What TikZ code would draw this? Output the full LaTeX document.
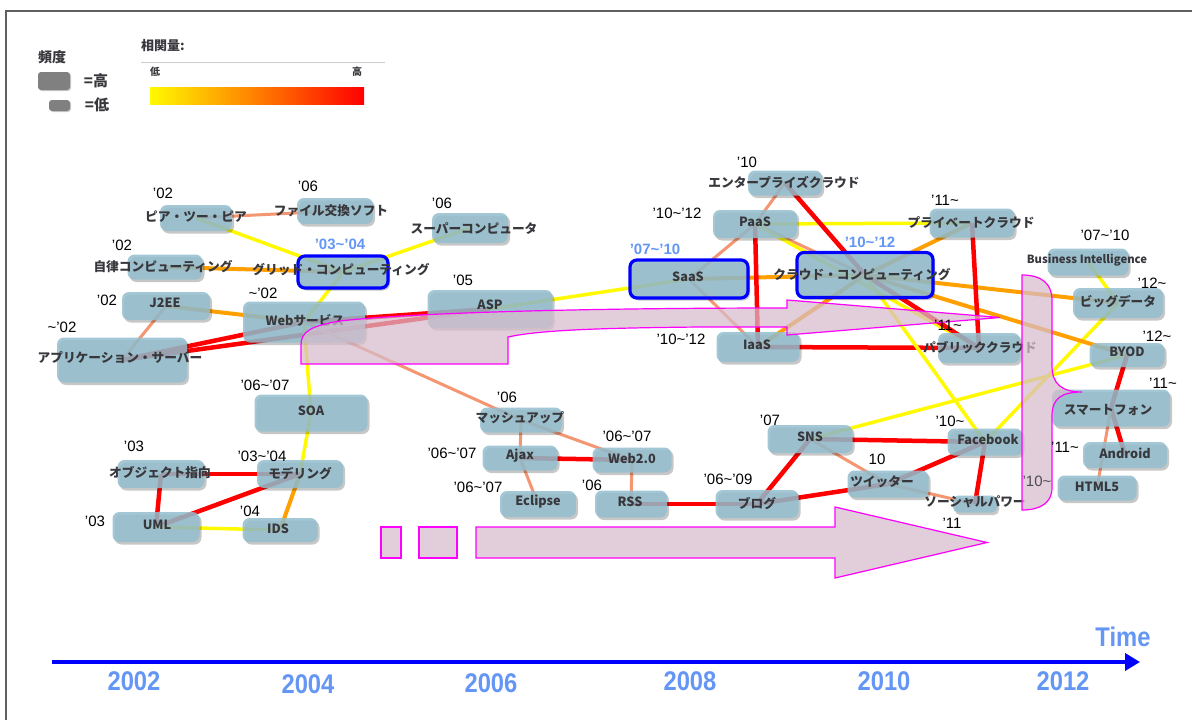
\documentclass[tikz,border=0pt]{standalone}
\usepackage{fontspec}
\usetikzlibrary{shadows,arrows.meta}
\newfontfamily\jfont{Noto Sans CJK JP}
\newfontfamily\lfont{Liberation Sans}
\newfontfamily\yfont{Liberation Sans}[FakeStretch=0.88]
\definecolor{nodeblue}{RGB}{148,190,206}
\definecolor{jtext}{RGB}{55,55,60}
\definecolor{hiblue}{RGB}{100,150,245}
\definecolor{arrowfill}{RGB}{214,188,204}
\definecolor{arrowline}{RGB}{255,0,255}
\definecolor{ye}{RGB}{255,250,0}
\definecolor{org}{RGB}{255,160,0}
\definecolor{sal}{RGB}{245,150,115}
\definecolor{rd}{RGB}{255,0,0}
\definecolor{legendgray}{RGB}{128,128,128}
\pgfdeclarelayer{bg}
\pgfdeclarelayer{edges}
\pgfsetlayers{bg,edges,main}
\newcommand\wv{\textasciitilde}

\tikzset{
  box/.style={rectangle, rounded corners=7pt, inner sep=0pt, fill=nodeblue,
    fill opacity=0.85,
    drop shadow={shadow xshift=2pt, shadow yshift=-2.5pt, opacity=0.22, fill=black}},
  hibox/.style={box, draw=blue, line width=3.2pt},
  jt/.style={font=\jfont\bfseries\fontsize{12.7}{14}\selectfont, text=jtext, inner sep=0pt},
  yr/.style={font=\lfont\fontsize{15}{16}\selectfont, inner sep=0pt},
  hyr/.style={font=\lfont\bfseries\fontsize{15}{16}\selectfont, text=hiblue, inner sep=0pt},
  yel/.style={draw=ye, line width=3.5pt},
  ora/.style={draw=org, line width=4pt},
  slm/.style={draw=sal, line width=3pt},
  red/.style={draw=rd, line width=4.5pt},
  band/.style={fill=arrowfill, fill opacity=0.72, draw=arrowline, line width=1.2pt},
  year/.style={font=\yfont\bfseries\fontsize{27}{30}\selectfont, text=hiblue, inner sep=0pt},
  legtext/.style={font=\jfont\bfseries\fontsize{14}{16}\selectfont, text=jtext, inner sep=0pt},
  legbox/.style={rectangle, rounded corners=3pt, fill=legendgray, inner sep=0pt,
    drop shadow={shadow xshift=1pt, shadow yshift=-1pt, opacity=0.2, fill=black}},
}

\begin{document}
\begin{tikzpicture}[x=1pt, y=-1pt]
\useasboundingbox (0,0) rectangle (1192,720);
\begin{pgfonlayer}{bg}
\fill[white] (0,0) rectangle (1192,720);
\end{pgfonlayer}

% frame
\draw[gray!75!black, line width=1.3pt] (6,720) -- (6,11) -- (1192,11);

% legend: frequency
\node[legtext] (lg-freq) at (52,57) {頻度};
\node[legbox, minimum width=32pt, minimum height=18pt] (lg-hi) at (54,81) {};
\node[legtext, font=\jfont\bfseries\fontsize{15}{17}\selectfont] (lg-hi-t) at (96,81) {=高};
\node[legbox, minimum width=21pt, minimum height=11pt] (lg-lo) at (59.5,105.5) {};
\node[legtext, font=\jfont\bfseries\fontsize{15}{17}\selectfont] (lg-lo-t) at (97,105) {=低};

% legend: correlation
\node[legtext, font=\jfont\bfseries\fontsize{13}{15}\selectfont] (lg-corr) at (163,46) {相関量:};
\draw[gray!40, line width=1pt] (141,62) -- (385,62);
\node[font=\jfont\bfseries\fontsize{10}{12}\selectfont, text=jtext, inner sep=0pt] (lg-low) at (155,72) {低};
\node[font=\jfont\bfseries\fontsize{10}{12}\selectfont, text=jtext, inner sep=0pt] (lg-high) at (357,72) {高};
\shade[left color=ye, right color=rd] (150,87) rectangle (364,104);

% ---------- boxes ----------
\node[box, minimum width=72pt, minimum height=26pt] (p2p) at (196,218) {};
\node[box, minimum width=76pt, minimum height=26pt] (file) at (335,211) {};
\node[box, minimum width=75pt, minimum height=25pt] (auto) at (165,267) {};
\node[hibox, minimum width=90pt, minimum height=32pt] (grid) at (343,272) {};
\node[box, minimum width=88pt, minimum height=28pt] (j2ee) at (166,306) {};
\node[box, minimum width=122pt, minimum height=41pt] (web) at (304,322) {};
\node[box, minimum width=130pt, minimum height=45pt] (app) at (122,360) {};
\node[box, minimum width=76pt, minimum height=30pt] (super) at (470,228) {};
\node[box, minimum width=125pt, minimum height=38pt] (asp) at (490,309) {};
\node[box, minimum width=113pt, minimum height=37pt] (soa) at (311,413) {};
\node[box, minimum width=87pt, minimum height=28pt] (obj) at (161,474) {};
\node[box, minimum width=86pt, minimum height=28pt] (model) at (300,474) {};
\node[box, minimum width=87pt, minimum height=30pt] (uml) at (156,527) {};
\node[box, minimum width=75pt, minimum height=24pt] (ids) at (280,530) {};
\node[box, minimum width=82pt, minimum height=25pt] (mash) at (521,420) {};
\node[box, minimum width=75pt, minimum height=25pt] (ajax) at (520,458) {};
\node[box, minimum width=79pt, minimum height=25pt] (web2) at (632,460) {};
\node[box, minimum width=76pt, minimum height=26pt] (eclipse) at (538,504) {};
\node[box, minimum width=72pt, minimum height=27pt] (rss) at (631,504) {};
\node[box, minimum width=83pt, minimum height=28pt] (blog) at (757,504) {};
\node[box, minimum width=85pt, minimum height=28pt] (sns) at (810,439) {};
\node[box, minimum width=75pt, minimum height=27pt] (fb) at (985,442) {};
\node[box, minimum width=81pt, minimum height=27pt] (twit) at (888,484) {};
\node[box, rounded corners=5pt, minimum width=44pt, minimum height=17pt] (social) at (975,504) {};
\node[hibox, minimum width=118pt, minimum height=38pt] (saas) at (689,279) {};
\node[box, minimum width=84pt, minimum height=28pt] (paas) at (755,224) {};
\node[box, minimum width=74pt, minimum height=25pt] (ent) at (785,183) {};
\node[hibox, minimum width=136pt, minimum height=45pt] (cloud) at (865,275) {};
\node[box, minimum width=83pt, minimum height=30pt] (iaas) at (758,347) {};
\node[box, minimum width=85pt, minimum height=29pt] (priv) at (972,223) {};
\node[box, minimum width=82pt, minimum height=30pt] (pub) at (979,348) {};
\node[box, minimum width=81pt, minimum height=27pt] (bi) at (1088,262) {};
\node[box, minimum width=90pt, minimum height=30pt] (big) at (1118,303) {};
\node[box, minimum width=75pt, minimum height=24pt] (byod) at (1127,355) {};
\node[box, minimum width=118pt, minimum height=37pt] (smart) at (1111,408) {};
\node[box, minimum width=84pt, minimum height=26pt] (android) at (1125,455) {};
\node[box, minimum width=79pt, minimum height=25pt] (html5) at (1097,488) {};

% ---------- connectors ----------
\begin{pgfonlayer}{edges}
\draw[slm] (p2p.center) -- (file.center);
\draw[yel] (p2p.center) -- (grid.center);
\draw[ora] (auto.center) -- (grid.center);
\draw[yel] (grid.center) -- (super.center);
\draw[yel] (grid.center) -- (web.center);
\draw[ora] (j2ee.center) -- (web.center);
\draw[slm] (j2ee.center) -- (app.center);
\draw[red] (app.center) -- (web.center);
\draw[red] (app.center) -- (asp.center);
\draw[red] (web.center) -- (asp.center);
\draw[yel] (web.center) -- (soa.center);
\draw[yel] (soa.center) -- (model.center);
\draw[ora] (model.center) -- (ids.center);
\draw[red] (obj.center) -- (model.center);
\draw[red] (obj.center) -- (uml.center);
\draw[red] (uml.center) -- (model.center);
\draw[yel] (uml.center) -- (ids.center);
\draw[slm] (web.center) -- (mash.center);
\draw[slm] (mash.center) -- (web2.center);
\draw[slm] (mash.center) -- (ajax.center);
\draw[red] (ajax.center) -- (web2.center);
\draw[slm] (ajax.center) -- (eclipse.center);
\draw[slm] (web2.center) -- (rss.center);
\draw[red] (rss.center) -- (blog.center);
\draw[red] (blog.center) -- (sns.center);
\draw[red] (blog.center) -- (twit.center);
\draw[red] (sns.center) -- (fb.center);
\draw[slm] (sns.center) -- (twit.center);
\draw[slm] (twit.center) -- (social.center);
\draw[red] (twit.center) -- (fb.center);
\draw[red] (fb.center) -- (social.center);
\draw[yel] (sns.center) -- (byod.center);
\draw[yel] (fb.center) -- (big.center);
\draw[yel] (bi.center) -- (big.center);
\draw[ora] (cloud.center) -- (big.center);
\draw[ora] (cloud.center) -- (byod.center);
\draw[red] (byod.center) -- (smart.center);
\draw[red] (smart.center) -- (android.center);
\draw[slm] (smart.center) -- (html5.center);
\draw[yel] (asp.center) -- (saas.center);
\draw[ora] (saas.center) -- (cloud.center);
\draw[slm] (saas.center) -- (paas.center);
\draw[slm] (saas.center) -- (iaas.center);
\draw[slm] (paas.center) -- (ent.center);
\draw[red] (paas.center) -- (iaas.center);
\draw[yel] (paas.center) -- (priv.center);
\draw[slm] (paas.center) -- (cloud.center);
\draw[yel] (paas.center) -- (pub.center);
\draw[red] (ent.center) -- (cloud.center);
\draw[red] (cloud.center) -- (pub.center);
\draw[ora] (cloud.center) -- (priv.center);
\draw[red] (priv.center) -- (pub.center);
\draw[red] (iaas.center) -- (pub.center);
\draw[ora] (iaas.center) -- (cloud.center);
\draw[yel] (cloud.center) -- (fb.center);
\end{pgfonlayer}

% ---------- box texts ----------
\node[jt] (p2p-t) at (196,217) {ピア・ツー・ピア};
\node[jt] (file-t) at (331,211) {ファイル交換ソフト};
\node[jt] (auto-t) at (163,267) {自律コンピューティング};
\node[jt] (grid-t) at (341,270) {グリッド・コンピューティング};
\node[jt] (j2ee-t) at (165,303) {J2EE};
\node[jt] (web-t) at (305,320) {Webサービス};
\node[jt] (app-t) at (120,358) {アプリケーション・サーバー};
\node[jt] (super-t) at (474,229) {スーパーコンピュータ};
\node[jt] (asp-t) at (490,305) {ASP};
\node[jt] (soa-t) at (311,411) {SOA};
\node[jt] (obj-t) at (160,473) {オブジェクト指向};
\node[jt] (model-t) at (300,474) {モデリング};
\node[jt] (uml-t) at (157,525) {UML};
\node[jt] (ids-t) at (278,529) {IDS};
\node[jt] (mash-t) at (520,418) {マッシュアップ};
\node[jt] (ajax-t) at (520,456) {Ajax};
\node[jt] (web2-t) at (632,459) {Web2.0};
\node[jt] (eclipse-t) at (538,502) {Eclipse};
\node[jt] (rss-t) at (630,502) {RSS};
\node[jt] (blog-t) at (757,504) {ブログ};
\node[jt] (sns-t) at (810,437) {SNS};
\node[jt] (fb-t) at (988,440) {Facebook};
\node[jt] (twit-t) at (882,482) {ツイッター};
\node[jt] (social-t) at (975,502) {ソーシャルパワー};
\node[jt] (saas-t) at (688,277) {SaaS};
\node[jt] (paas-t) at (755,222) {PaaS};
\node[jt] (ent-t) at (784,182) {エンタープライズクラウド};
\node[jt] (cloud-t) at (862,275) {クラウド・コンピューティング};
\node[jt] (iaas-t) at (757,345) {IaaS};
\node[jt] (priv-t) at (971,222) {プライベートクラウド};
\node[jt] (pub-t) at (980,348) {パブリッククラウド};
\node[jt, font=\jfont\bfseries\fontsize{11.3}{13}\selectfont] (bi-t) at (1087,260) {Business Intelligence};
\node[jt] (big-t) at (1118,302) {ビッグデータ};
\node[jt] (byod-t) at (1127,352) {BYOD};
\node[jt] (smart-t) at (1108,410) {スマートフォン};
\node[jt] (android-t) at (1125,453) {Android};
\node[jt] (html5-t) at (1097,487) {HTML5};

% ---------- trend arrows ----------
\draw[band] (301,364) -- (508,364) -- (508,337)
  .. controls (540,330) and (600,328) .. (700,327) -- (787,327) -- (787,335)
  -- (1000,317.5) -- (787,300) -- (787,308)
  .. controls (600,308) and (420,312) .. (340,321)
  .. controls (310,326) and (301,332) .. (301,345) -- cycle;

\draw[band] (381,527) rectangle (401,558);
\draw[band] (419,527) rectangle (457,558);
\draw[band] (476,527) -- (835,527) -- (835,507) -- (987,542.5) -- (835,578)
  -- (835,558) -- (476,558) -- cycle;

% brace gathering the recent topics
\draw[band] (1022,275) .. controls (1042,275) and (1052,284) .. (1052,300)
  -- (1052,366) .. controls (1052,384) and (1062,392) .. (1082,392)
  .. controls (1062,392) and (1052,398) .. (1052,416)
  -- (1052,488) .. controls (1052,503) and (1040,510) .. (1022,510) -- cycle;

% ---------- year labels ----------
\node[yr] (p2p-y) at (163,193) {’02};
\node[yr] (file-y) at (308,186) {’06};
\node[yr] (auto-y) at (122,245) {’02};
\node[hyr] (grid-y) at (340,244) {’03\wv’04};
\node[yr] (j2ee-y) at (107,300) {’02};
\node[yr] (web-y) at (263,293) {\wv’02};
\node[yr] (app-y) at (62,327) {\wv’02};
\node[yr] (super-y) at (442,203) {’06};
\node[yr] (asp-y) at (463,280) {’05};
\node[yr] (soa-y) at (265,385) {’06\wv’07};
\node[yr] (obj-y) at (134,446) {’03};
\node[yr] (model-y) at (262,456) {’03\wv’04};
\node[yr] (uml-y) at (95,521) {’03};
\node[yr] (ids-y) at (250,511) {’04};
\node[yr] (mash-y) at (507,397) {’06};
\node[yr] (ajax-y) at (452,453) {’06\wv’07};
\node[yr] (web2-y) at (627,436) {’06\wv’07};
\node[yr] (eclipse-y) at (478,487) {’06\wv’07};
\node[yr] (rss-y) at (592,485) {’06};
\node[hyr] (saas-y) at (655,249) {’07\wv’10};
\node[yr] (paas-y) at (677,213) {’10\wv’12};
\node[yr] (ent-y) at (747,162) {’10};
\node[hyr] (cloud-y) at (870,242) {’10\wv’12};
\node[yr] (iaas-y) at (681,339) {’10\wv’12};
\node[yr] (priv-y) at (945,200) {’11\wv};
\node[yr] (pub-y) at (948,325) {’11\wv};
\node[yr] (sns-y) at (770,420) {’07};
\node[yr] (fb-y) at (950,421) {’10\wv};
\node[yr] (twit-y) at (877,459) {10};
\node[yr] (social-y) at (952,523) {’11};
\node[yr] (blog-y) at (728,479) {’06\wv’09};
\node[yr] (bi-y) at (1105,235) {’07\wv’10};
\node[yr] (big-y) at (1152,283) {’12\wv};
\node[yr] (byod-y) at (1157,336) {’12\wv};
\node[yr] (smart-y) at (1163,383) {’11\wv};
\node[yr] (android-y) at (1065,447) {’11\wv};
\node[yr, text=black!70] (brace-y) at (1037,481) {’10\wv};

% ---------- time axis ----------
\coordinate (t0) at (52,662);
\coordinate (t1) at (1140,662);
\draw[blue, line width=4pt, -{Triangle[length=15pt, width=17pt]}] (t0) -- (t1);
\node[year] (time-t) at (1123,637) {Time};
\node[year] (y2002) at (134,681) {2002};
\node[year] (y2004) at (308,684) {2004};
\node[year] (y2006) at (491,683) {2006};
\node[year] (y2008) at (690,681) {2008};
\node[year] (y2010) at (884,681) {2010};
\node[year] (y2012) at (1063,681) {2012};
\end{tikzpicture}
\end{document}
